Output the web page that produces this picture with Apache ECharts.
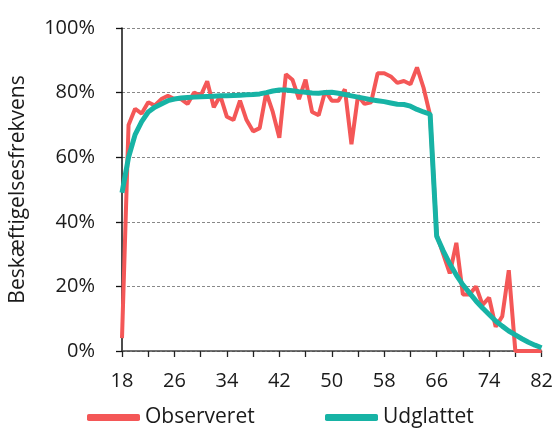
<!DOCTYPE html>
<html>
<head>
<meta charset="utf-8">
<script src="https://cdn.jsdelivr.net/npm/echarts@6/dist/echarts.min.js"></script>
<style>html,body{margin:0;padding:0;background:#fff}#c{width:556px;height:428px}</style>
</head>
<body>
<div id="c"></div>
<script>
const ages = [];
for (let a = 18; a <= 82; a++) ages.push(a);
const observeret = [4,70,75,73.5,77,76,78,79,78,78,76.5,80,79,83.5,75.5,79,72.5,71.5,77.5,71.5,68,69,80,74,66,85.7,84,78,84,74,73,80.5,77.5,77.5,81,64,79,76.5,77,86,86,85,83,83.6,82.6,87.8,81.5,73,36,30,24,33.5,17.5,17.5,20,14.3,16.5,7.5,10.7,25,0,0,0,0,0];
const udglattet = [49,60,67,71,74,75.5,76.5,77.5,78,78.3,78.5,78.6,78.7,78.8,78.9,79,79,79.1,79.2,79.3,79.4,79.6,80,80.5,80.8,80.8,80.6,80.3,80.1,79.9,79.8,80,80.1,79.8,79.4,79,78.6,78.2,77.8,77.5,77.2,76.8,76.4,76.3,75.8,74.8,74,73.3,35.5,31,27,23.5,20.5,18,15.5,13.3,11.3,9.3,7.7,6.2,5,3.8,2.7,1.8,1];
const yTicks = [0,20,40,60,80,100];
const seriesNames = ['Observeret','Udglattet'];
const colors = ['#F45757','#17B3A5'];

const font = 'Open Sans';
const chart = echarts.init(document.getElementById('c'), null, {renderer:'canvas'});
chart.setOption({
  animation:false,
  textStyle:{fontFamily:font},
  grid:{left:120,right:12,top:28,bottom:77,containLabel:false},
  xAxis:{
    type:'value', min:18, max:82, interval:4,
    axisLine:{lineStyle:{color:'#444',width:1.5}},
    axisTick:{show:true,length:6,inside:false,lineStyle:{color:'#222',width:1.3}},
    axisLabel:{color:'#1a1a1a',fontSize:20,fontFamily:font,margin:20,
      formatter:v=>((v-18)%8===0?String(v):'')},
    splitLine:{show:false}
  },
  yAxis:{
    type:'value', min:0, max:100, interval:20,
    name:'Beskæftigelsesfrekvens', nameLocation:'middle', nameGap:93,
    nameTextStyle:{color:'#1a1a1a',fontSize:21,fontFamily:font},
    axisLine:{show:true,lineStyle:{color:'#111',width:1.5}},
    axisTick:{show:true,length:6,lineStyle:{color:'#111',width:1.3}},
    axisLabel:{color:'#1a1a1a',fontSize:20,fontFamily:font,margin:27,formatter:v=>v+'%'},
    splitLine:{show:true,lineStyle:{color:'#888',type:[3,2],width:1}}
  },
  legend:[
    {data:[seriesNames[0]],left:82,top:402,icon:'roundRect',itemWidth:53,itemHeight:7,itemGap:10,
     textStyle:{fontSize:21,color:'#1a1a1a',fontFamily:font,padding:[0,0,0,0]}},
    {data:[seriesNames[1]],left:320,top:402,icon:'roundRect',itemWidth:53,itemHeight:7,itemGap:10,
     textStyle:{fontSize:21,color:'#1a1a1a',fontFamily:font,padding:[0,0,0,0]}}
  ],
  series:[
    {name:seriesNames[0],type:'line',data:ages.map((a,i)=>[a,observeret[i]]),showSymbol:false,
     lineStyle:{color:colors[0],width:4},itemStyle:{color:colors[0]},z:2},
    {name:seriesNames[1],type:'line',data:ages.map((a,i)=>[a,udglattet[i]]),showSymbol:false,
     lineStyle:{color:colors[1],width:5},itemStyle:{color:colors[1]},z:3}
  ]
});
</script>
</body>
</html>
